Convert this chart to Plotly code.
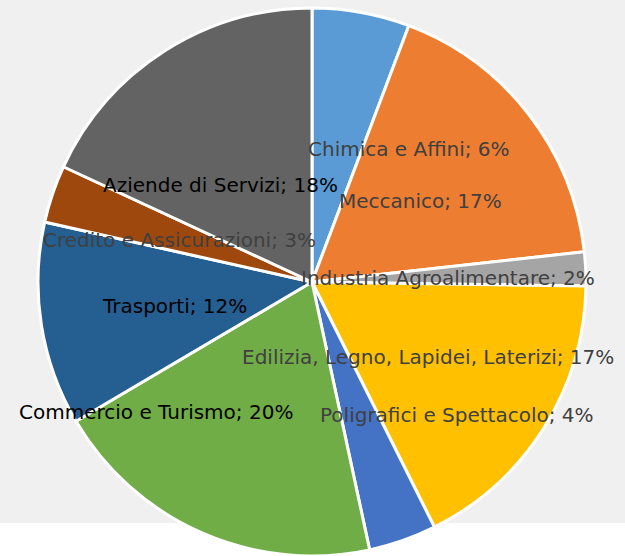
import plotly.graph_objects as go

labels = ["Chimica e Affini", "Meccanico", "Industria Agroalimentare",
          "Edilizia, Legno, Lapidei, Laterizi", "Poligrafici e Spettacolo",
          "Commercio e Turismo", "Trasporti", "Credito e Assicurazioni",
          "Aziende di Servizi"]
values = [5.75, 17.5, 2.0, 17.4, 4.0, 19.9, 12.0, 3.4, 18.1]
colors = ["#5B9BD5", "#ED7D31", "#A5A5A5", "#FFC000", "#4472C4",
          "#70AD47", "#255E91", "#9E480E", "#636363"]
label_colors = ["#404040", "#404040", "#404040", "#404040", "#404040",
                "#000000", "#000000", "#404040", "#000000"]
# label centre positions (pixels from top-left)
label_x = [409, 420, 448, 428, 457, 156, 174, 179, 220]
label_y = [149, 201, 278, 357, 415, 412, 306, 240, 185]

W, H = 625, 556
R = 274
cx, cy = 312, 282

fig = go.Figure(go.Pie(
    labels=labels, values=values, sort=False, direction="clockwise",
    rotation=0, marker=dict(colors=colors, line=dict(color="white", width=3)),
    textinfo="none", hoverinfo="label+percent", showlegend=False,
    domain=dict(x=[(cx - R) / W, (cx + R) / W], y=[0, 2 * R / H]),
))

total = sum(values)
for lab, v, c, x, y in zip(labels, values, label_colors, label_x, label_y):
    fig.add_annotation(
        x=x / W, y=1 - y / H, xref="paper", yref="paper",
        text=f"{lab}; {round(100 * v / total)}%", showarrow=False,
        font=dict(family="DejaVu Sans", size=20, color=c),
        xanchor="center", yanchor="middle",
    )

fig.add_shape(type="rect", xref="paper", yref="paper", x0=0, x1=1,
              y0=1 - 523 / H, y1=1, fillcolor="#F0F0F0", line_width=0,
              layer="below")

fig.update_layout(width=W, height=H, margin=dict(l=0, r=0, t=0, b=0),
                  paper_bgcolor="white", plot_bgcolor="white")
fig.write_html("out.html", config={"displayModeBar": False},
               post_script="document.body.style.margin='0';document.body.style.overflow='hidden';")
